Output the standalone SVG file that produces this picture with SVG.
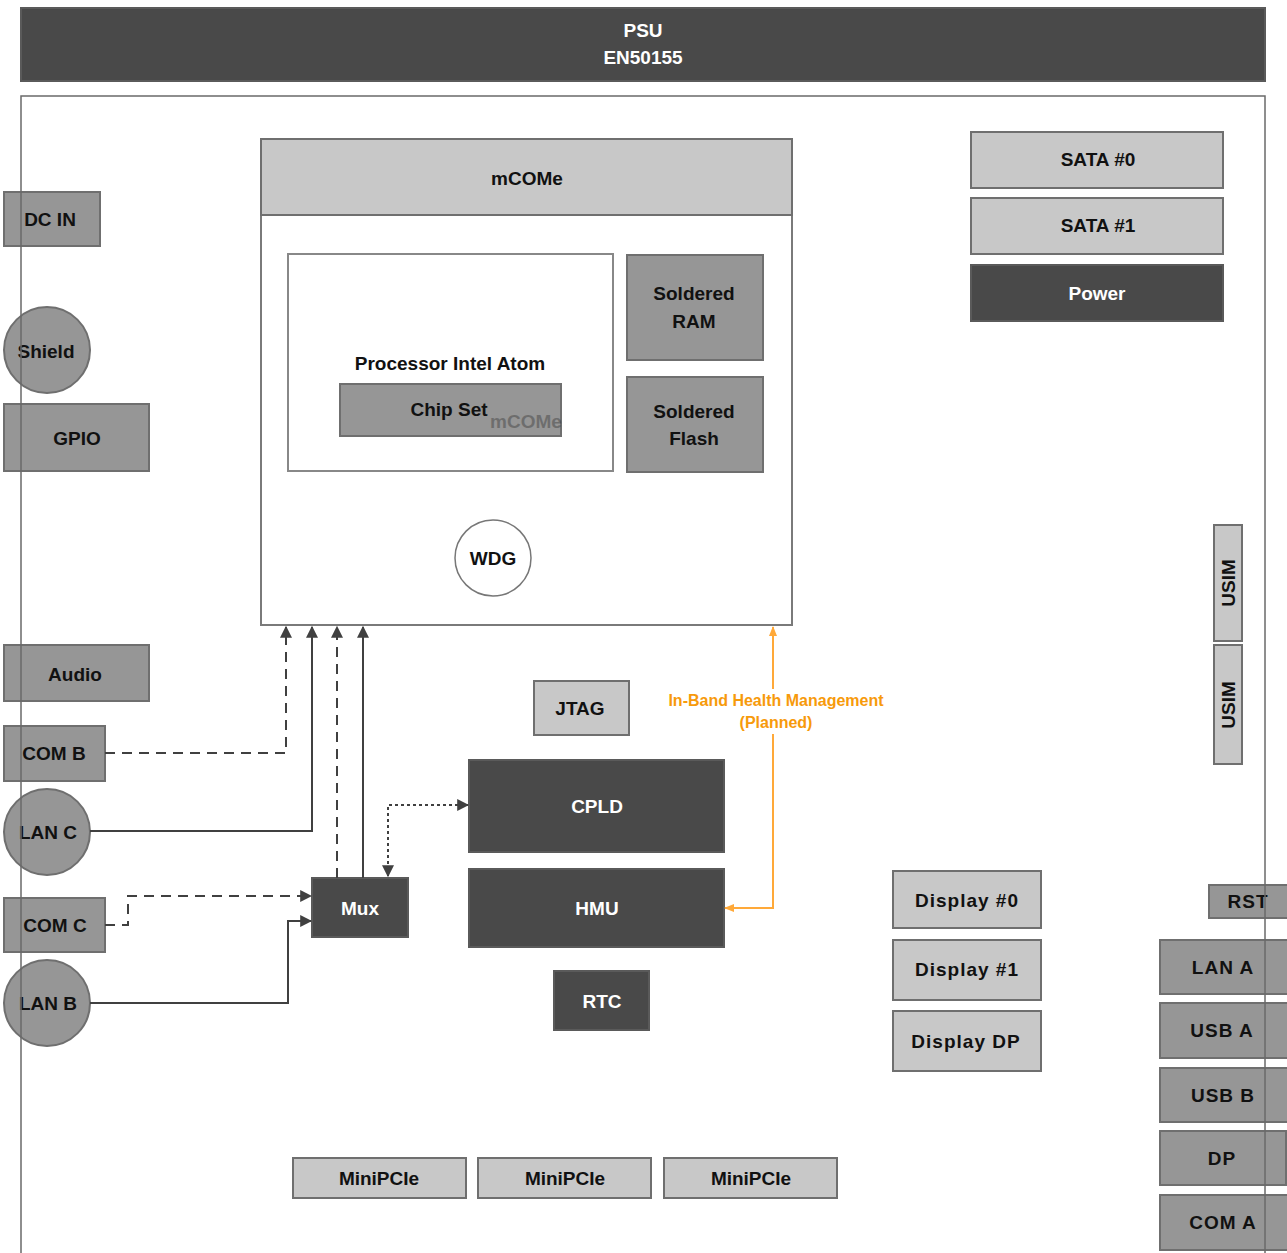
<svg xmlns="http://www.w3.org/2000/svg" width="1287" height="1253" viewBox="0 0 1287 1253">
<style>
text{font-family:"Liberation Sans",Arial,sans-serif;font-weight:bold;font-size:19px;text-anchor:middle;dominant-baseline:central;fill:#111}
.dk{fill:#494949;stroke:#5a5a5a;stroke-width:2}
.md{fill:#969696;stroke:#6f6f6f;stroke-width:2}
.lt{fill:#c8c8c8;stroke:#6f6f6f;stroke-width:2}
.wh{fill:#fff;stroke:#7a7a7a;stroke-width:2}
.w{fill:#fff}
.sp{letter-spacing:1px}
.c{fill:none;stroke:#404040;stroke-width:2}
.dash{stroke-dasharray:10 7}
.dot{stroke-dasharray:3 3}
.or{fill:none;stroke:#ffa939;stroke-width:2}
.ot{fill:#f79a0b;font-size:16px}
</style>
<defs>
<marker id="ah2" viewBox="0 0 10 10" refX="9" refY="5" markerWidth="12" markerHeight="12" orient="auto-start-reverse" markerUnits="userSpaceOnUse"><path d="M0,0 L10,5 L0,10 z" fill="#404040"/></marker>
<marker id="ao" viewBox="0 0 10 10" refX="9" refY="5" markerWidth="10" markerHeight="10" orient="auto-start-reverse" markerUnits="userSpaceOnUse"><path d="M0,1 L10,5 L0,9 z" fill="#ffa939"/></marker>
</defs>
<rect width="1287" height="1253" fill="#fff"/>

<g id="psu"><rect class="dk" x="21" y="8" width="1244" height="73"/><text class="w" x="643" y="30">PSU</text><text class="w" x="643" y="57">EN50155</text></g>

<g id="mcome">
<rect class="wh" x="261" y="139" width="531" height="486"/>
<rect class="lt" x="261" y="139" width="531" height="76"/>
<text x="527" y="178">mCOMe</text>
</g>
<g id="processor"><rect x="288" y="254" width="325" height="217" fill="#fff" stroke="#888" stroke-width="2"/><text x="450" y="363">Processor Intel Atom</text></g>
<g id="chipset"><rect class="md" x="340" y="384" width="221" height="52"/><text x="449" y="409">Chip Set</text><text x="526" y="421" fill="#b0b0b0" opacity="0.3" font-size="20">mCOMe</text></g>
<g id="ram"><rect class="md" x="627" y="255" width="136" height="105"/><text x="694" y="293">Soldered</text><text x="694" y="321">RAM</text></g>
<g id="flash"><rect class="md" x="627" y="377" width="136" height="95"/><text x="694" y="411">Soldered</text><text x="694" y="438">Flash</text></g>
<g id="wdg"><circle cx="493" cy="558" r="38" fill="#fff" stroke="#777" stroke-width="1.5"/><text x="493" y="558">WDG</text></g>

<g id="dcin"><rect class="md" x="4" y="192" width="96" height="54"/><text x="50" y="219">DC IN</text></g>
<g id="shield"><circle class="md" cx="47" cy="350" r="43"/><text x="46" y="351">Shield</text></g>
<g id="gpio"><rect class="md" x="4" y="404" width="145" height="67"/><text x="77" y="438">GPIO</text></g>
<g id="audio"><rect class="md" x="4" y="645" width="145" height="56"/><text x="75" y="674">Audio</text></g>
<g id="comb"><rect class="md" x="4" y="726" width="101" height="55"/><text x="54" y="753">COM B</text></g>
<g id="lanc"><circle class="md" cx="47" cy="832" r="43"/><text x="48" y="832">LAN C</text></g>
<g id="comc"><rect class="md" x="4" y="898" width="101" height="54"/><text x="55" y="925">COM C</text></g>
<g id="lanb"><circle class="md" cx="47" cy="1003" r="43"/><text x="48" y="1003">LAN B</text></g>

<g id="mux"><rect class="dk" x="312" y="878" width="96" height="59"/><text class="w" x="360" y="908">Mux</text></g>
<g id="jtag"><rect class="lt" x="534" y="681" width="95" height="54"/><text x="580" y="708">JTAG</text></g>
<g id="cpld"><rect class="dk" x="469" y="760" width="255" height="92"/><text class="w" x="597" y="806">CPLD</text></g>
<g id="hmu"><rect class="dk" x="469" y="869" width="255" height="78"/><text class="w" x="597" y="908">HMU</text></g>
<g id="rtc"><rect class="dk" x="554" y="971" width="95" height="59"/><text class="w" x="602" y="1001">RTC</text></g>

<g id="sata0"><rect class="lt" x="971" y="132" width="252" height="56"/><text x="1098" y="159">SATA #0</text></g>
<g id="sata1"><rect class="lt" x="971" y="198" width="252" height="56"/><text x="1098" y="225">SATA #1</text></g>
<g id="power"><rect class="dk" x="971" y="265" width="252" height="56"/><text class="w" x="1097" y="293">Power</text></g>

<g id="usim1"><rect class="lt" x="1214" y="525" width="28" height="116"/><text transform="translate(1228,583) rotate(-90)">USIM</text></g>
<g id="usim2"><rect class="lt" x="1214" y="645" width="28" height="119"/><text transform="translate(1228,705) rotate(-90)">USIM</text></g>

<g id="display0"><rect class="lt" x="893" y="871" width="148" height="57"/><text class="sp" x="967" y="900">Display #0</text></g>
<g id="display1"><rect class="lt" x="893" y="940" width="148" height="60"/><text class="sp" x="967" y="969">Display #1</text></g>
<g id="displaydp"><rect class="lt" x="893" y="1011" width="148" height="60"/><text class="sp" x="966" y="1041">Display DP</text></g>

<g id="rst"><rect class="md" x="1209" y="885" width="80" height="33"/><text class="sp" x="1248" y="901">RST</text></g>
<g id="lana"><rect class="md" x="1160" y="940" width="129" height="54"/><text class="sp" x="1223" y="967">LAN A</text></g>
<g id="usba"><rect class="md" x="1160" y="1003" width="129" height="55"/><text class="sp" x="1222" y="1030">USB A</text></g>
<g id="usbb"><rect class="md" x="1160" y="1068" width="129" height="54"/><text class="sp" x="1223" y="1095">USB B</text></g>
<g id="dp"><rect class="md" x="1160" y="1131" width="126" height="54"/><text class="sp" x="1222" y="1158">DP</text></g>
<g id="coma"><rect class="md" x="1160" y="1195" width="129" height="55"/><text class="sp" x="1223" y="1222">COM A</text></g>

<g id="minipcie1"><rect class="lt" x="293" y="1158" width="173" height="40"/><text x="379" y="1178">MiniPCIe</text></g>
<g id="minipcie2"><rect class="lt" x="478" y="1158" width="173" height="40"/><text x="565" y="1178">MiniPCIe</text></g>
<g id="minipcie3"><rect class="lt" x="664" y="1158" width="173" height="40"/><text x="751" y="1178">MiniPCIe</text></g>

<g id="board"><rect x="21" y="96" width="1244" height="1180" fill="none" stroke="#6a6a6a" stroke-width="1.5"/></g>

<g id="connectors">
<path class="c dash" d="M105,753 H286 V627" marker-end="url(#ah2)"/>
<path class="c" d="M90,831 H312 V627" marker-end="url(#ah2)"/>
<path class="c dash" d="M337,878 V627" marker-end="url(#ah2)"/>
<path class="c" d="M363,878 V627" marker-end="url(#ah2)"/>
<path class="c dot" d="M388,876 V805 H468" marker-start="url(#ah2)" marker-end="url(#ah2)"/>
<path class="c dash" d="M105,925 H128 V896 H311" marker-end="url(#ah2)"/>
<path class="c" d="M90,1003 H288 V921 H311" marker-end="url(#ah2)"/>
<path class="or" d="M725,908 H773 V734" marker-start="url(#ao)"/>
<path class="or" d="M773,689 V627" marker-end="url(#ao)"/>
<text class="ot" x="776" y="700">In-Band Health Management</text>
<text class="ot" x="776" y="722">(Planned)</text>
</g>
</svg>
